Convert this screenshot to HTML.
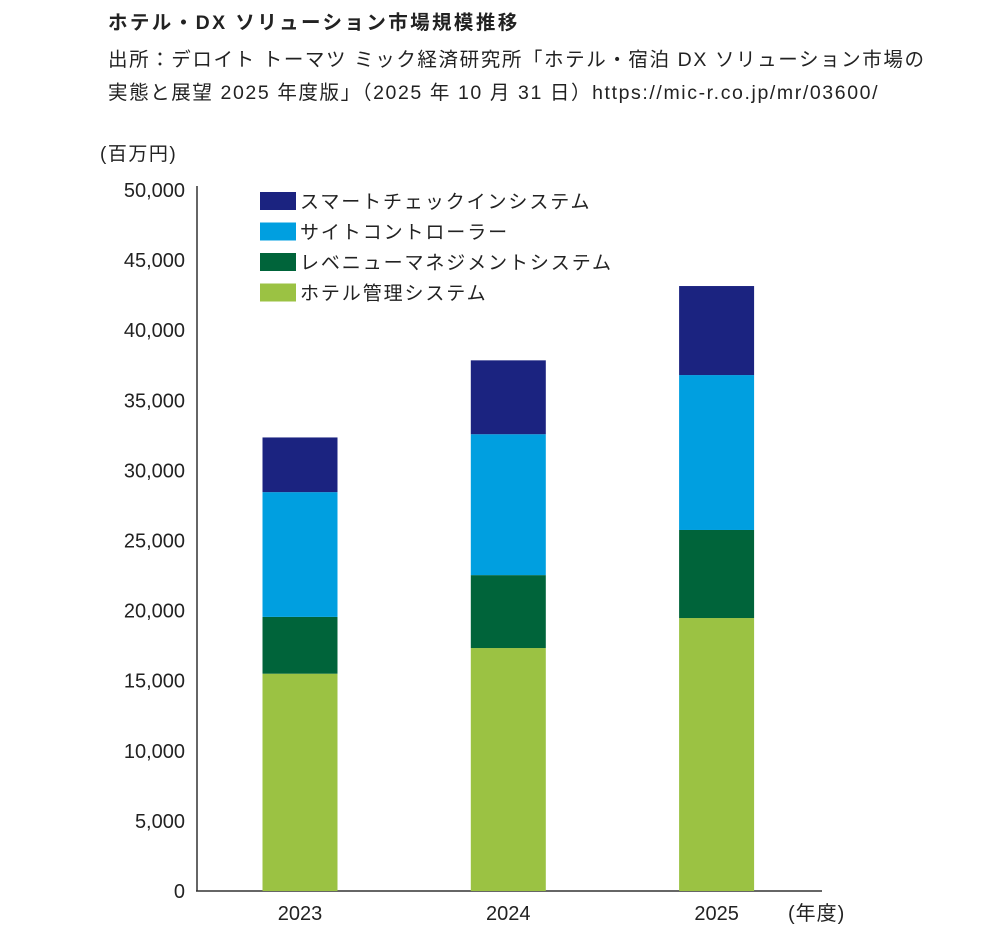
<!DOCTYPE html>
<html><head><meta charset="utf-8">
<style>
body{margin:0;background:#fff;width:1000px;height:930px;overflow:hidden;font-family:"Liberation Sans","Noto Sans CJK JP",sans-serif;color:#222}
.t{position:absolute;white-space:nowrap}
</style></head><body>
<div class="t" style="left:108px;top:6px;font-size:19.5px;font-weight:bold;letter-spacing:2.4px">ホテル・DX ソリューション市場規模推移</div>
<div class="t" style="left:108px;top:44px;font-size:19.5px;line-height:33px;letter-spacing:1.6px">出所：デロイト トーマツ ミック経済研究所「ホテル・宿泊 DX ソリューション市場の<br>実態と展望 2025 年度版」（2025 年 10 月 31 日）https://mic-r.co.jp/mr/03600/</div>
<svg id="chart" width="1000" height="930" style="position:absolute;left:0;top:0"></svg>
<script>
const years=["2023","2024","2025"];
const hotelPms=[15500,17330,19470];
const revenue=[4050,5200,6280];
const siteController=[8900,10050,11050];
const checkin=[3900,5270,6350];
const yTicks=[0,5000,10000,15000,20000,25000,30000,35000,40000,45000,50000];
const seriesNames=["スマートチェックインシステム","サイトコントローラー","レベニューマネジメントシステム","ホテル管理システム"];
const colors={hotel:"#9bc243",rev:"#00643a",site:"#009fe0",chk:"#1b2380"};
const NS="http://www.w3.org/2000/svg";
const svg=document.getElementById("chart");
const y0=891,yTop=190,maxV=50000;
const y=v=>y0-(v/maxV)*(y0-yTop);
const x=i=>300+i*208.3;
const bw=75;
function mk(tag,attrs,parent){const e=document.createElementNS(NS,tag);for(const k in attrs)e.setAttribute(k,attrs[k]);(parent||svg).appendChild(e);return e;}
let t=mk("text",{x:100,y:160,"font-size":19,fill:"#222","letter-spacing":1.5});t.textContent="(百万円)";


yTicks.forEach(v=>{const e=mk("text",{x:185,y:y(v)+7,"font-size":20,"text-anchor":"end",fill:"#222"});e.textContent=v.toLocaleString("en-US");

});
let ax=mk("line",{x1:197,y1:186,x2:197,y2:891,stroke:"#333","stroke-width":1.5});


let bx=mk("line",{x1:196,y1:891,x2:822,y2:891,stroke:"#333","stroke-width":1.5});


years.forEach((yr,i)=>{
  let base=0;
  [[hotelPms,colors.hotel,"hotel"],[revenue,colors.rev,"revenue"],[siteController,colors.site,"site"],[checkin,colors.chk,"checkin"]].forEach(([arr,c,n])=>{
    const top=base+arr[i];
    const r=mk("rect",{x:x(i)-bw/2,y:y(top),width:bw,height:y(base)-y(top),fill:c});
    
    
    base=top;
  });
  const l=mk("text",{x:x(i),y:920,"font-size":20,"text-anchor":"middle",fill:"#222"});l.textContent=yr;
  
  
});
let xu=mk("text",{x:788,y:920,"font-size":20,fill:"#222","letter-spacing":1});xu.textContent="(年度)";


const lc=[colors.chk,colors.site,colors.rev,colors.hotel];
seriesNames.forEach((n,i)=>{
  const g=mk("g",{});
  
  
  mk("rect",{x:260,y:192+i*30.5,width:36,height:18,fill:lc[i]},g);
  const tx=mk("text",{x:300,y:208+i*30.5,"font-size":19,fill:"#222","letter-spacing":1.9},g);tx.textContent=n;
});
</script>
</body></html>
